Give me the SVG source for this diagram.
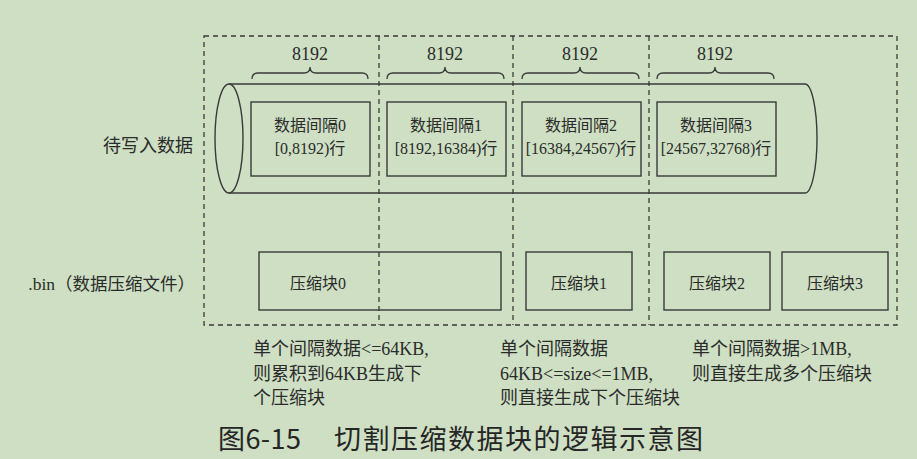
<svg xmlns="http://www.w3.org/2000/svg" width="917" height="459" viewBox="0 0 917 459">
<style>
.bg{fill:#cedfc3}
.dash{fill:none;stroke:#3a3a3a;stroke-width:1.3;stroke-dasharray:5,4}
.box{fill:none;stroke:#3a3a3a;stroke-width:1.4}
.t{font-family:"Liberation Serif","Noto Sans CJK SC",serif;fill:#2b2b2b;text-anchor:middle}
.s{font-size:16px}
.num{font-size:18px}
.lbl{text-anchor:end}
.note{font-family:"Liberation Serif","Noto Sans CJK SC",serif;fill:#2b2b2b;font-size:18px}
.title{font-family:"Noto Sans CJK SC","Liberation Sans",sans-serif;fill:#262626;font-size:27px}
</style>
<rect class="bg" width="917" height="459"/>
<g id="frame">
<rect class="dash" x="204" y="36" width="693" height="289"/>
<line class="dash" x1="379" y1="36" x2="379" y2="325"/>
<line class="dash" x1="513" y1="36" x2="513" y2="325"/>
<line class="dash" x1="649" y1="36" x2="649" y2="325"/>
</g>
<g id="cylinder">
<path class="box" d="M229,84 H805 A12,54.5 0 0 1 805,193 H229"/>
<ellipse class="box" cx="229" cy="138.5" rx="14" ry="54.5"/>
</g>
<g id="braces" fill="none" stroke="#3a3a3a" stroke-width="1.3">
<path d="M252,79 Q252,73 258,73 H304 Q310,73 310,67 Q310,73 316,73 H362 Q368,73 368,79"/>
<path d="M387,79 Q387,73 393,73 H439 Q445,73 445,67 Q445,73 451,73 H498 Q504,73 504,79"/>
<path d="M522,79 Q522,73 528,73 H574 Q580,73 580,67 Q580,73 586,73 H633 Q639,73 639,79"/>
<path d="M657,79 Q657,73 663,73 H709 Q715,73 715,67 Q715,73 721,73 H768 Q774,73 774,79"/>
</g>
<g id="sizes">
<text class="t num" x="310" y="60">8192</text>
<text class="t num" x="445" y="60">8192</text>
<text class="t num" x="580" y="60">8192</text>
<text class="t num" x="715" y="60">8192</text>
</g>
<g id="interval0">
<rect class="box" x="251" y="102" width="119" height="74"/>
<text class="t s" x="310" y="131">数据间隔0</text>
<text class="t s" x="310" y="154">[0,8192)行</text>
</g>
<g id="interval1">
<rect class="box" x="387" y="102" width="119" height="74"/>
<text class="t s" x="446" y="131">数据间隔1</text>
<text class="t s" x="446" y="154">[8192,16384)行</text>
</g>
<g id="interval2">
<rect class="box" x="522" y="102" width="119" height="74"/>
<text class="t s" x="581" y="131">数据间隔2</text>
<text class="t s" x="581" y="154">[16384,24567)行</text>
</g>
<g id="interval3">
<rect class="box" x="657" y="102" width="119" height="74"/>
<text class="t s" x="716" y="131">数据间隔3</text>
<text class="t s" x="716" y="154">[24567,32768)行</text>
</g>
<g id="block0">
<rect class="box" x="259" y="252" width="242" height="58"/>
<text class="t s" x="318" y="289">压缩块0</text>
</g>
<g id="block1">
<rect class="box" x="526" y="252" width="106" height="58"/>
<text class="t s" x="579" y="289">压缩块1</text>
</g>
<g id="block2">
<rect class="box" x="664" y="252" width="106" height="58"/>
<text class="t s" x="717" y="289">压缩块2</text>
</g>
<g id="block3">
<rect class="box" x="782" y="252" width="106" height="58"/>
<text class="t s" x="835" y="289">压缩块3</text>
</g>
<g id="labels">
<text class="t lbl" x="193" y="152" font-size="18">待写入数据</text>
<text class="t lbl" x="195" y="290" font-size="17.5">.bin（数据压缩文件）</text>
</g>
<g id="notes">
<text class="note" x="253" y="355">单个间隔数据&lt;=64KB,</text>
<text class="note" x="253" y="380">则累积到64KB生成下</text>
<text class="note" x="253" y="404">个压缩块</text>
<text class="note" x="500" y="355">单个间隔数据</text>
<text class="note" x="500" y="380">64KB&lt;=size&lt;=1MB,</text>
<text class="note" x="500" y="404">则直接生成下个压缩块</text>
<text class="note" x="692" y="355">单个间隔数据&gt;1MB,</text>
<text class="note" x="692" y="380">则直接生成多个压缩块</text>
</g>
<g id="caption">
<text class="title" x="218" y="449" textLength="83" lengthAdjust="spacing">图6-15</text>
<text class="title" x="334" y="449" textLength="369" lengthAdjust="spacing">切割压缩数据块的逻辑示意图</text>
</g>
</svg>
